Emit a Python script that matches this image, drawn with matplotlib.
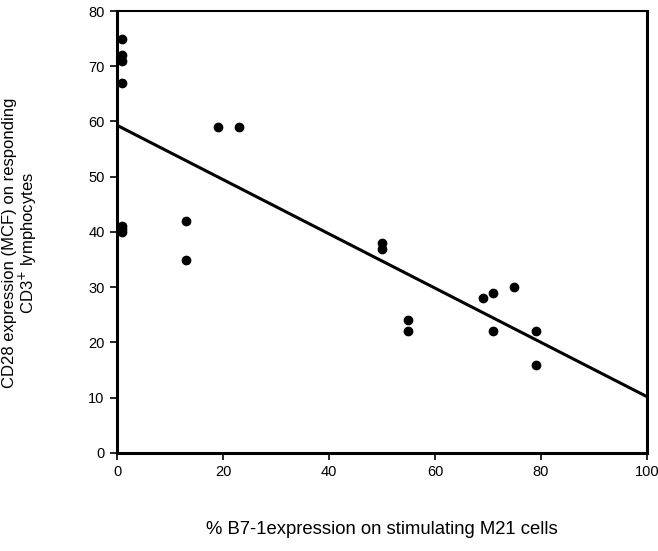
import matplotlib.pyplot as plt
import numpy as np

plt.rcParams['font.family'] = ['Liberation Sans', 'DejaVu Sans']

# % B7-1 expression on stimulating M21 cells
b71 = [1, 1, 1, 1, 1, 1, 1, 13, 13, 19, 23, 50, 50, 55, 55, 69, 71, 71, 75, 79, 79]
# CD28 expression (MCF)
cd28 = [75, 72, 71, 67, 41, 40.5, 40, 42, 35, 59, 59, 38, 37, 24, 22, 28, 29, 22, 30, 22, 16]

# regression line
intercept = 59.3
slope = -0.491
line_x = [0, 100]

fig = plt.figure(figsize=(6.58, 5.51), dpi=100)
ax = fig.add_axes([0.178, 0.178, 0.805, 0.802])

ax.plot(b71, cd28, 'o', color='black', markersize=6, clip_on=False, zorder=3)
ax.plot(line_x, [intercept + slope * x for x in line_x], color='black', lw=2.2)

ax.set_xlim(0, 100)
ax.set_ylim(0, 80)
ax.set_xticks(np.arange(0, 101, 20))
ax.set_yticks(np.arange(0, 81, 10))
ax.tick_params(direction='out', length=5, width=1.2, labelsize=10.5, pad=4)
for side in ['left', 'bottom', 'right']:
    ax.spines[side].set_linewidth(2.2)
ax.spines['top'].set_linewidth(1.5)

ax.set_xlabel('% B7-1expression on stimulating M21 cells', fontsize=13.3, labelpad=30)
ax.set_ylabel('CD28 expression (MCF) on responding\nCD3$^{+}$ lymphocytes', fontsize=12,
              linespacing=0.95)
ax.yaxis.set_label_coords(-0.148, 0.475)

fig.savefig('out.png', dpi=100)
